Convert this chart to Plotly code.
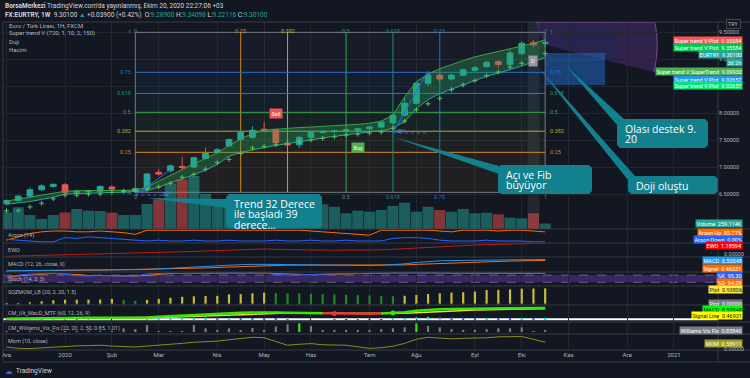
import numpy as np
import pandas as pd
import plotly.graph_objects as go

# ---------------- data (weekly EUR/TRY) ----------------
dates = pd.date_range("2019-12-02", periods=47, freq="7D")

tick_dates = ["2019-12-02", "2020-01-06", "2020-02-03", "2020-03-02", "2020-04-06", "2020-05-04",
              "2020-06-01", "2020-07-06", "2020-08-03", "2020-09-07", "2020-10-05", "2020-11-02",
              "2020-12-07", "2021-01-04"]
tick_labels = ["Ara", "2020", "Şub", "Mar", "Nis", "May", "Haz", "Tem", "Ağu", "Eyl", "Eki", "Kas", "Ara", "2021"]
price_ticks = [6.5, 7.0, 7.5, 8.0, 8.5, 9.0, 9.5]

opens = [6.32, 6.38, 6.46, 6.58, 6.64, 6.67, 6.53, 6.54, 6.55, 6.63,
         6.555, 6.55, 6.60, 6.90, 6.93, 7.01, 7.00, 7.16, 7.27, 7.39,
         7.51, 7.55, 7.70, 7.69, 7.43, 7.41, 7.55, 7.64, 7.655, 7.665,
         7.68, 7.71, 7.74, 7.82, 7.96, 8.18, 8.55, 8.70, 8.63, 8.70,
         8.79, 8.86, 8.95, 8.90, 9.10, 9.30, 9.289]
highs = [6.40, 6.48, 6.62, 6.68, 6.69, 6.70, 6.58, 6.58, 6.66, 6.66,
         6.60, 6.62, 6.89, 6.96, 7.05, 7.19, 7.19, 7.36, 7.35, 7.53,
         7.68, 7.76, 7.84, 7.71, 7.46, 7.57, 7.66, 7.68, 7.69, 7.71,
         7.73, 7.76, 7.85, 7.98, 8.28, 8.58, 8.74, 8.74, 8.73, 8.82,
         8.87, 8.96, 8.98, 9.18, 9.33, 9.35, 9.34098]
lows = [6.29, 6.36, 6.44, 6.56, 6.62, 6.50, 6.50, 6.51, 6.53, 6.57,
        6.52, 6.53, 6.58, 6.84, 6.90, 6.93, 6.98, 7.14, 7.24, 7.37,
        7.48, 7.52, 7.64, 7.42, 7.38, 7.35, 7.53, 7.62, 7.63, 7.65,
        7.66, 7.69, 7.72, 7.80, 7.94, 8.16, 8.50, 8.58, 8.60, 8.68,
        8.77, 8.84, 8.84, 8.88, 9.08, 9.22, 9.22116]
closes = [6.38, 6.46, 6.58, 6.65, 6.68, 6.53, 6.55, 6.56, 6.64, 6.59,
          6.565, 6.60, 6.87, 6.87, 7.02, 6.99, 7.17, 7.25, 7.32, 7.51,
          7.64, 7.68, 7.68, 7.45, 7.41, 7.55, 7.64, 7.66, 7.67, 7.69,
          7.71, 7.74, 7.83, 7.96, 8.18, 8.55, 8.70, 8.63, 8.70, 8.80,
          8.84, 8.94, 8.90, 9.11, 9.29, 9.262, 9.301]
volumes = [787000, 1022000, 659000, 471000, 659000, 777000, 942000, 862000, 848000, 768000,
           659000, 659000, 1178000, 1399000, 2152000, 2341000, 2496000, 1649000, 1413000, 1286000,
           1150000, 1100000, 1000000, 1200000, 950000, 1000000, 980000, 1163000, 1050000, 739000,
           862000, 815000, 895000, 1083000, 1239000, 815000, 1050000, 895000, 815000, 942000,
           739000, 768000, 692000, 532000, 504000, 739000, 259114]

st_upper = [6.37, 6.40, 6.44, 6.48, 6.51, 6.55, 6.56, 6.56, 6.57, 6.57,
            6.57, 6.57, 6.63, 6.74, 6.85, 6.96, 7.06, 7.16, 7.26, 7.40,
            7.52, 7.62, 7.68, 7.70, 7.72, 7.73, 7.74, 7.75, 7.76, 7.78,
            7.79, 7.81, 7.85, 7.96, 8.30, 8.58, 8.72, 8.82, 8.90, 8.97,
            9.04, 9.09, 9.14, 9.19, 9.24, 9.29, 9.35584]
st_lower = [6.31, 6.33, 6.36, 6.40, 6.44, 6.50, 6.51, 6.51, 6.52, 6.53,
            6.53, 6.54, 6.56, 6.63, 6.70, 6.78, 6.86, 6.94, 7.05, 7.20,
            7.27, 7.32, 7.36, 7.40, 7.43, 7.46, 7.50, 7.54, 7.57, 7.60,
            7.62, 7.65, 7.67, 7.72, 7.84, 8.08, 8.25, 8.36, 8.44, 8.52,
            8.60, 8.68, 8.74, 8.80, 8.87, 8.95, 9.02657]
st_trend = [6.19, 6.19, 6.26, 6.33, 6.41, 6.48, 6.48, 6.50, 6.50, 6.53,
            6.55, 6.56, 6.59, 6.63, 6.70, 6.81, 6.86, 6.96, 7.08, 7.14,
            7.25, 7.35, 7.38, 7.41, 7.44, 7.47, 7.50, 7.53, 7.56, 7.59,
            7.61, 7.63, 7.65, 7.72, 7.85, 8.06, 8.17, 8.27, 8.43, 8.52,
            8.60, 8.69, 8.76, 8.85, 8.92, 9.00, 9.0993]

aroon_up = [14, 43, 71, 86, 93, 93, 86, 86, 93, 86,
            79, 64, 100, 100, 100, 100, 100, 100, 100, 100,
            100, 100, 100, 100, 100, 100, 93, 86, 79, 71,
            64, 57, 100, 100, 100, 100, 100, 93, 86, 100,
            100, 100, 93, 100, 100, 92.86, 85.71]
aroon_down = [21, 14, 7, 0, 0, 36, 29, 43, 36, 29,
              21, 14, 7, 14, 7, 7, 14, 7, 7, 14,
              7, 7, 7, 14, 7, 7, 14, 7, 7, 14,
              7, 7, 7, 29, 36, 36, 29, 14, 7, 7,
              7, 14, 7, 7, 7, 0, 0]
ewo = [-0.25, -0.22, -0.18, -0.14, -0.10, -0.07, -0.04, -0.01, 0.00, 0.02,
       0.04, 0.06, 0.08, 0.12, 0.18, 0.22, 0.28, 0.33, 0.38, 0.44,
       0.50, 0.55, 0.56, 0.52, 0.48, 0.45, 0.44, 0.43, 0.42, 0.42,
       0.43, 0.44, 0.46, 0.52, 0.60, 0.68, 0.76, 0.82, 0.88, 0.94,
       1.00, 1.05, 1.09, 1.12, 1.15, 1.17, 1.18594]
macd = [0.03, 0.04, 0.05, 0.06, 0.07, 0.07, 0.07, 0.07, 0.07, 0.07,
        0.07, 0.06, 0.08, 0.11, 0.14, 0.17, 0.20, 0.23, 0.25, 0.27,
        0.29, 0.30, 0.31, 0.30, 0.29, 0.28, 0.27, 0.27, 0.26, 0.26,
        0.25, 0.25, 0.26, 0.28, 0.32, 0.38, 0.43, 0.45, 0.46, 0.47,
        0.48, 0.49, 0.49, 0.49, 0.50, 0.50, 0.50548]
macd_signal = [0.02, 0.03, 0.03, 0.04, 0.05, 0.05, 0.06, 0.06, 0.06, 0.07,
               0.07, 0.07, 0.07, 0.08, 0.09, 0.11, 0.13, 0.15, 0.17, 0.19,
               0.21, 0.23, 0.25, 0.26, 0.27, 0.27, 0.27, 0.27, 0.27, 0.27,
               0.26, 0.26, 0.26, 0.26, 0.28, 0.30, 0.32, 0.35, 0.37, 0.39,
               0.41, 0.42, 0.43, 0.44, 0.45, 0.455, 0.46231]
cm_signal = [0.02, 0.03, 0.03, 0.04, 0.05, 0.05, 0.06, 0.06, 0.07, 0.07,
             0.07, 0.06, 0.07, 0.08, 0.09, 0.11, 0.13, 0.15, 0.18, 0.20,
             0.22, 0.24, 0.26, 0.27, 0.28, 0.28, 0.27, 0.27, 0.28, 0.275,
             0.27, 0.265, 0.265, 0.26, 0.27, 0.29, 0.32, 0.35, 0.38, 0.40,
             0.42, 0.43, 0.44, 0.45, 0.46, 0.465, 0.46931]
stoch_k = [70, 80, 88, 92, 95, 85, 75, 72, 78, 74,
           70, 72, 90, 93, 95, 92, 94, 96, 97, 98,
           98, 97, 95, 85, 80, 82, 86, 88, 90, 92,
           93, 95, 97, 98, 99, 99, 97, 95, 94, 95,
           96, 96, 94, 96, 97, 96, 95.30]
stoch_d = [65, 74, 79, 87, 92, 91, 85, 77, 75, 75,
           74, 72, 77, 85, 93, 93, 94, 94, 96, 97,
           98, 98, 97, 92, 87, 82, 83, 85, 88, 90,
           92, 93, 95, 97, 98, 99, 98, 97, 95, 95,
           95, 96, 95, 95, 96, 96, 94.09]
sqz = [0.02, 0.05, 0.12, 0.18, 0.24, 0.27, 0.275, 0.28, 0.285, 0.32,
       0.26, 0.21, 0.26, 0.32, 0.38, 0.44, 0.47, 0.49, 0.50, 0.59,
       0.60, 0.65, 0.69, 0.66, 0.65, 0.64, 0.62, 0.60, 0.58, 0.56,
       0.54, 0.52, 0.50, 0.48, 0.50, 0.55, 0.61, 0.65, 0.69, 0.71,
       0.75, 0.84, 0.85, 0.88, 0.92, 0.93, 0.93806]
vix = [0.1, 0.1, 0.1, 0.1, 0.1, 0.2, 0.2, 0.1, 0.1, 0.2,
       1.6, 1.2, 3.0, 0.3, 0.2, 0.3, 3.0, 1.6, 0.6, 1.6,
       0.6, 1.7, 0.9, 2.4, 3.3, 3.7, 2.6, 0.9, 0.9, 0.9,
       0.9, 0.9, 1.2, 1.6, 2.0, 3.7, 2.6, 2.0, 1.2, 0.9,
       0.9, 1.2, 1.6, 1.6, 2.0, 0.3, 0.8584]
vix_alert_dates = ["2020-05-25", "2020-08-03"]
mom = [0.19, 0.08, 0.06, 0.13, 0.17, 0.25, 0.29, 0.31, 0.34, 0.27,
       0.21, 0.19, 0.27, 0.34, 0.38, 0.50, 0.59, 0.63, 0.69, 0.80,
       0.92, 1.01, 0.97, 0.67, 0.34, 0.42, 0.48, 0.38, 0.34, 0.34,
       0.21, 0.08, 0.13, 0.25, 0.50, 0.84, 1.01, 0.97, 0.88, 0.92,
       0.94, 0.97, 1.05, 1.09, 1.07, 0.84, 0.58911]

fib_levels = [0, 0.25, 0.382, 0.5, 0.618, 0.75, 1]
fib_price_range = [6.531, 9.494]
fib_time_bars = [11, 46]

# ---------------- geometry / style ----------------
BG = "#131722"
GRID = "#22262f"
SEP = "#363a45"
TXT = "#b2b5be"
FONT = "Roboto"
PL, PR, PT, PB = 3, 718, 22, 350
X0 = pd.Timestamp("2019-11-29 21:47")
X1 = pd.Timestamp("2021-01-30 07:26")
P_LO, P_HI = 5.8519, 9.6852
DAY_MS = 86400000


def fx(px):
    return (px - PL) / (PR - PL)


def fy(py):
    return (PB - py) / (PB - PT)


def dom(top, bot):
    return [fy(bot), fy(top)]


def date_px(d):
    return PL + (pd.Timestamp(d) - X0) / (X1 - X0) * (PR - PL)


def price_py(p):
    return 22 + (P_HI - p) / (P_HI - P_LO) * (229 - 22)


fig = go.Figure()
X = dict(xaxis="x", hoverinfo="skip", showlegend=False)

# ---- main pane: supertrend band, crosses, candles, volume
fig.add_trace(go.Scatter(x=dates, y=st_lower, mode="lines", line=dict(color="#26a69a", width=1), yaxis="y", **X))
fig.add_trace(go.Scatter(x=dates, y=st_upper, mode="lines", line=dict(color="#43a047", width=1),
                         fill="tonexty", fillcolor="rgba(40,165,85,0.33)", yaxis="y", **X))
fig.add_trace(go.Scatter(x=dates, y=st_trend, mode="markers", yaxis="y",
                         marker=dict(symbol="cross-thin", size=3.5, line=dict(color="#5cc15f", width=1)), **X))
fig.add_trace(go.Candlestick(x=dates, open=opens, high=highs, low=lows, close=closes, yaxis="y",
                             increasing=dict(line=dict(color="#26a69a", width=1), fillcolor="#26a69a"),
                             decreasing=dict(line=dict(color="#ef5350", width=1), fillcolor="#ef5350"),
                             whiskerwidth=0, xaxis="x", hoverinfo="skip", showlegend=False))
vol_colors = ["rgba(38,166,154,0.5)" if c >= o else "rgba(239,83,80,0.5)" for o, c in zip(opens, closes)]
fig.add_trace(go.Bar(x=dates, y=volumes, marker=dict(color=vol_colors, line=dict(width=0)),
                     width=7 * DAY_MS * 0.95, yaxis="y2", **X))

# ---- Aroon
fig.add_trace(go.Scatter(x=dates, y=aroon_up, mode="lines", line=dict(color="#ff6d00", width=1), yaxis="y3", **X))
fig.add_trace(go.Scatter(x=dates, y=aroon_down, mode="lines", line=dict(color="#2962ff", width=1), yaxis="y3", **X))
# ---- EWO
fig.add_trace(go.Scatter(x=dates, y=ewo, mode="lines", line=dict(color="#b71c1c", width=1), yaxis="y4", **X))
# ---- MACD
fig.add_trace(go.Scatter(x=dates, y=macd_signal, mode="lines", line=dict(color="#ff6d00", width=1), yaxis="y5", **X))
fig.add_trace(go.Scatter(x=dates, y=macd, mode="lines", line=dict(color="#2196f3", width=1), yaxis="y5", **X))
# ---- Stoch
fig.add_trace(go.Scatter(x=dates, y=stoch_d, mode="lines", line=dict(color="#ff6d00", width=1), yaxis="y6", **X))
fig.add_trace(go.Scatter(x=dates, y=stoch_k, mode="lines", line=dict(color="#2962ff", width=1), yaxis="y6", **X))
# ---- Squeeze momentum
sqz_colors = ["#c8be38" if i == 0 or v > sqz[i - 1] else "#1f8a24" for i, v in enumerate(sqz)]
fig.add_trace(go.Bar(x=dates, y=sqz, marker=dict(color=sqz_colors, line=dict(width=0)),
                     width=1.3 * DAY_MS, yaxis="y7", **X))
fig.add_trace(go.Scatter(x=dates, y=[0] * len(dates), mode="markers",
                         marker=dict(size=2, color="#3b3f4a"), yaxis="y7", **X))
# ---- CM Ult MacD
hist = [m - s for m, s in zip(macd, cm_signal)]
hist_colors = []
for i, h in enumerate(hist):
    prev = hist[i - 1] if i else h
    if h >= 0:
        hist_colors.append("#00e5ff" if h >= prev else "#2962ff")
    else:
        hist_colors.append("#ff1744" if h < prev else "#880e4f")
fig.add_trace(go.Bar(x=dates, y=hist, marker=dict(color=hist_colors, line=dict(width=0)),
                     width=1.3 * DAY_MS, yaxis="y8", **X))
fig.add_trace(go.Scatter(x=dates, y=cm_signal, mode="lines", line=dict(color="#e8e33a", width=1.5), yaxis="y8", **X))
up = [m >= s for m, s in zip(macd, cm_signal)]
n = len(macd)
lime_y = [macd[i] if (up[i] or (i + 1 < n and up[i + 1])) else None for i in range(n)]
red_y = [macd[i] if ((not up[i]) or (i + 1 < n and not up[i + 1])) else None for i in range(n)]
fig.add_trace(go.Scatter(x=dates, y=lime_y, mode="lines", line=dict(color="#39e600", width=2.5), yaxis="y8",
                         connectgaps=False, **X))
fig.add_trace(go.Scatter(x=dates, y=red_y, mode="lines", line=dict(color="#e53935", width=2.5), yaxis="y8",
                         connectgaps=False, **X))
cx_d = [dates[i] for i in range(1, n) if up[i] != up[i - 1]]
cx_v = [macd[i] for i in range(1, n) if up[i] != up[i - 1]]
cx_c = ["#39e600" if up[i] else "#e53935" for i in range(1, n) if up[i] != up[i - 1]]
fig.add_trace(go.Scatter(x=cx_d, y=cx_v, mode="markers", marker=dict(size=5, color=cx_c), yaxis="y8", **X))
# ---- Williams Vix Fix
alert_set = set(pd.to_datetime(vix_alert_dates))
vix_colors = ["#39e600" if d in alert_set else "#787b86" for d in dates]
fig.add_trace(go.Bar(x=dates, y=vix, marker=dict(color=vix_colors, line=dict(width=0)),
                     width=1.3 * DAY_MS, yaxis="y9", **X))
# ---- Momentum
fig.add_trace(go.Scatter(x=dates, y=mom, mode="lines", line=dict(color="#8d8b1c", width=1), yaxis="y10", **X))

# ---------------- shapes ----------------
shapes = []


def pline(x0, y0, x1, y1, color=SEP, width=1):
    shapes.append(dict(type="line", xref="paper", yref="paper", x0=fx(x0), y0=fy(y0), x1=fx(x1), y1=fy(y1),
                       line=dict(color=color, width=width), layer="above"))


def ppath(points, fill, line_color=None, layer="above", close=True, lw=1):
    s = "M " + " L ".join(f"{fx(x):.5f},{fy(y):.5f}" for x, y in points) + (" Z" if close else "")
    d = dict(type="path", xref="paper", yref="paper", path=s, layer=layer,
             line=dict(color=line_color or "rgba(0,0,0,0)", width=lw if line_color else 0))
    if fill:
        d["fillcolor"] = fill
    shapes.append(d)


# crosshair column on the hovered bar
shapes.append(dict(type="rect", xref="x", yref="paper", x0=dates[45] - pd.Timedelta(days=3.5),
                   x1=dates[45] + pd.Timedelta(days=3.5), y0=fy(229), y1=fy(22),
                   fillcolor="rgba(120,123,134,0.16)", line=dict(width=0), layer="between"))

# fibonacci (price levels + time levels)
fib_colors = ["#787b86", "#d18a1f", "#a7b12f", "#3fa34d", "#18907d", "#2a72c6", "#787b86"]
fib_fill = ["rgba(209,138,31,0.07)", "rgba(167,177,47,0.07)", "rgba(63,163,77,0.08)",
            "rgba(24,144,125,0.08)", "rgba(42,114,198,0.08)", "rgba(120,123,134,0.06)"]
f_lo, f_hi = fib_price_range
t0, t1 = dates[fib_time_bars[0]], dates[fib_time_bars[1]]
span = fib_time_bars[1] - fib_time_bars[0]
fib_prices = [f_lo + l * (f_hi - f_lo) for l in fib_levels]
for k in range(len(fib_levels) - 1):
    shapes.append(dict(type="rect", xref="x", yref="y", x0=t0, x1=t1, y0=fib_prices[k], y1=fib_prices[k + 1],
                       fillcolor=fib_fill[k], line=dict(width=0), layer="between"))
fib_time = []
for l, c, p in zip(fib_levels, fib_colors, fib_prices):
    shapes.append(dict(type="line", xref="x", yref="y", x0=t0, x1=t1, y0=p, y1=p,
                       line=dict(color=c, width=1), layer="between"))
    td = dates[fib_time_bars[0] + int(round(l * span))]
    fib_time.append(td)
    shapes.append(dict(type="line", xref="x", yref="y", x0=td, x1=td, y0=f_lo, y1=f_hi,
                       line=dict(color=c, width=1), layer="between"))

# support zone + fib arc sector (drawings)
cxp, cyp = date_px(dates[46]), price_py(9.26)
ang = np.radians(np.linspace(-95, 14, 60))
outer = [(cxp, cyp)] + [(cxp + 112 * np.cos(a), max(22.5, cyp + 112 * np.sin(a))) for a in ang]
inner = [(cxp, cyp)] + [(cxp + 72 * np.cos(a), max(22.5, cyp + 72 * np.sin(a))) for a in ang]
ppath(outer, "rgba(120,58,170,0.30)", layer="between")
ppath(inner, "rgba(30,40,90,0.35)", layer="between")
ppath([(cxp + 112 * np.cos(a), max(22.5, cyp + 112 * np.sin(a))) for a in ang], None,
      line_color="rgba(170,90,200,0.7)", layer="between", close=False)
shapes.append(dict(type="rect", xref="x", yref="y", x0=dates[46], x1=pd.Timestamp("2020-11-23 19:00"),
                   y0=8.52, y1=9.11, fillcolor="rgba(33,110,205,0.5)", line=dict(width=0), layer="between"))

# angle tools
ANG = "#2962ff"
shapes.append(dict(type="line", xref="x", yref="y", x0=dates[11], y0=6.48, x1=dates[14], y1=6.95,
                   line=dict(color=ANG, width=1), layer="above"))
shapes.append(dict(type="line", xref="x", yref="y", x0=dates[11], y0=6.48, x1=dates[14], y1=6.48,
                   line=dict(color=ANG, width=1, dash="dot"), layer="above"))
shapes.append(dict(type="line", xref="x", yref="y", x0=dates[33], y0=7.63, x1=dates[36], y1=8.78,
                   line=dict(color=ANG, width=1), layer="above"))
shapes.append(dict(type="line", xref="x", yref="y", x0=dates[33], y0=7.63, x1=dates[36], y1=7.63,
                   line=dict(color=ANG, width=1, dash="dot"), layer="above"))

# stoch band
shapes.append(dict(type="rect", xref="paper", yref="y6", x0=0, x1=1, y0=20, y1=80,
                   fillcolor="rgba(103,58,183,0.45)", line=dict(width=0), layer="between"))
for lv in (20, 80):
    shapes.append(dict(type="line", xref="paper", yref="y6", x0=0, x1=1, y0=lv, y1=lv,
                       line=dict(color="rgba(180,180,200,0.45)", width=1, dash="dash"), layer="between"))
# CM zero line
shapes.append(dict(type="line", xref="paper", yref="y8", x0=0, x1=1, y0=0, y1=0,
                   line=dict(color="#ffffff", width=2), layer="between"))

# callouts
TEAL = "#12808d"
callouts = [
    dict(box=(226, 194, 322, 229), lines=["Trend 32 Derece", "ile başladı 39", "derece..."],
         tail=[(147, 198), (227, 199), (227, 208)]),
    dict(box=(498, 165, 592, 194), lines=["Açı ve Fib", "büyüyor"],
         tail=[(393, 137), (499, 166), (499, 174)]),
    dict(box=(617, 119, 708, 148), lines=["Olası destek 9.", "20"],
         tail=[(566, 66), (617, 125), (624, 119)]),
    dict(box=(628, 176, 718, 194), lines=["Doji oluştu"],
         tail=[(537, 66), (628, 180), (635, 176)]),
]
for c in callouts:
    x0, y0, x1, y1 = c["box"]
    r = 3
    pts = [(x0 + r, y0), (x1 - r, y0), (x1, y0 + r), (x1, y1 - r), (x1 - r, y1), (x0 + r, y1), (x0, y1 - r),
           (x0, y0 + r)]
    ppath(c["tail"], TEAL)
    ppath(pts, TEAL)

# pane separators & frame
for py in (22, 229, 243, 257, 272, 286, 305, 322, 334, 350, 362):
    pline(3, py, 750, py)
pline(718, 22, 718, 362)
pline(3, 22, 3, 362)

# ---------------- annotations ----------------
anns = []


def txt(px, py, s, size=6, color=TXT, xa="left", ya="middle", family=FONT, bg=None, pad=0, **kw):
    d = dict(x=fx(px), y=fy(py), xref="paper", yref="paper", text=s, showarrow=False,
             xanchor=xa, yanchor=ya, font=dict(size=size, color=color, family=family))
    if bg:
        d.update(bgcolor=bg, borderpad=pad)
    d.update(kw)
    anns.append(d)


# header
txt(3, 6, "<b>BorsaMerkezi</b> TradingView.com'da yayınlanmış, Ekim 20, 2020 22:27:06 +03", 6.5, "#d1d4dc")
G = "#26a69a"
txt(3, 15, f"<b>FX:EURTRY, 1W</b>  9.30100 <span style='color:{G}'>▲</span> +0.03900 (+0.42%)  "
           f"O:<span style='color:{G}'>9.28900</span> H:<span style='color:{G}'>9.34098</span> "
           f"L:<span style='color:{G}'>9.22116</span> C:<span style='color:{G}'>9.30100</span>", 6.5, "#d1d4dc")
# main legend
for py, s in zip((25.5, 33.5, 41.5, 49.5),
                 ("Euro / Türk Lirası, 1H, FXCM", "Super trend V (720, 1, 10, 2, 150)", "Doji", "Hacim")):
    txt(7, py, s, 6)
# sub pane titles
for py, s in zip((235.7, 249.5, 264.3, 279.5, 292.7, 313.3, 328.5, 341),
                 ("Aroon (14)", "EWO", "MACD (12, 26, close, 9)", "Stoch (14, 3, 3)", "SQZMOM_LB (20, 2, 20, 1.5)",
                  "CM_Ult_MacD_MTF (60, 12, 26, 9)", "CM_Williams_Vix_Fix (22, 20, 2, 50, 0.85, 1.01)",
                  "Mom (10, close)")):
    txt(6, py, s, 5.5)

# fib labels
for l, c, p, td in zip(fib_levels, fib_colors, fib_prices, fib_time):
    lab = f"{l:g}"
    anns.append(dict(x=t0, y=p, xref="x", yref="y", text=lab, showarrow=False, xanchor="right", xshift=-2,
                     font=dict(size=5.5, color=c, family=FONT)))
    anns.append(dict(x=t1, y=p, xref="x", yref="y", text=lab, showarrow=False, xanchor="left", xshift=3,
                     font=dict(size=5.5, color=c, family=FONT)))
    anns.append(dict(x=td, y=fy(26.5), xref="x", yref="paper", text=lab, showarrow=False, xanchor="center",
                     font=dict(size=5.5, color=c, family=FONT)))
    if l not in (0.25, 0.382):
        anns.append(dict(x=td, y=fy(197), xref="x", yref="paper", text=lab, showarrow=False, xanchor="center",
                         font=dict(size=5.5, color=c, family=FONT)))

# angle labels, signals, doji mark
anns.append(dict(x=dates[13], y=6.50, xref="x", yref="y", text="32°", showarrow=False, xanchor="left",
                 xshift=1, font=dict(size=5.5, color="#5b8def", family=FONT)))
anns.append(dict(x=dates[33], y=7.66, xref="x", yref="y", text="39°", showarrow=False, xanchor="left",
                 xshift=2, font=dict(size=5.5, color="#5b8def", family=FONT)))
anns.append(dict(x=dates[23], y=8.0, xref="x", yref="y", text="Sell", showarrow=False, bgcolor="#ef5350",
                 borderpad=1.5, font=dict(size=5.5, color="#ffffff", family=FONT)))
anns.append(dict(x=dates[30], y=7.37, xref="x", yref="y", text="Buy", showarrow=False, bgcolor="#4caf50",
                 borderpad=1.5, font=dict(size=5.5, color="#ffffff", family=FONT)))
anns.append(dict(x=dates[45], y=8.97, xref="x", yref="y", text="D", showarrow=False, bgcolor="#9598a1",
                 borderpad=2, font=dict(size=5.5, color="#ffffff", family=FONT)))

# callout texts
for c in callouts:
    x0, y0, x1, y1 = c["box"]
    for k, line in enumerate(c["lines"]):
        txt(x0 + 5.5, y0 + 9.5 + 10.5 * k, line, 10.5, "#ffffff", family="Open Sans")

# right price-scale tags (main pane)
txt(733, 24.5, "TRY", 5.5, TXT, xa="center", bg=BG, pad=1, bordercolor="#434651", borderwidth=1)
tags = [
    ("Super trend V:Plot  9.35584", 40, "#ff5252", "#ffffff"),
    ("Super trend V:Plot  9.35584", 47.5, "#00c853", "#ffffff"),
    ("EURTRY  9.30100", 55, "#26a69a", "#ffffff"),
    ("3d 2h", 62.5, "#26a69a", "#ffffff"),
    ("Super trend V:SuperTrend  9.09930", 71.5, "#4caf50", "#ffffff"),
    ("Super trend V:Plot  9.02657", 79, "#2196f3", "#ffffff"),
    ("Super trend V:Plot  9.02657", 86, "#00e676", "#ffffff"),
    ("Volume  259.114K", 223.5, "#26a69a", "#ffffff"),
    ("Aroon Up  85.71%", 232.5, "#ff6d00", "#ffffff"),
    ("Aroon Down  0.00%", 239.5, "#2962ff", "#ffffff"),
    ("EWO  1.18594", 245.5, "#ff0000", "#ffffff"),
    ("MACD  0.50548", 260.5, "#2196f3", "#ffffff"),
    ("Signal  0.46231", 268, "#ff6d00", "#ffffff"),
    ("%K  95.30", 275, "#2962ff", "#ffffff"),
    ("%D  94.09", 282, "#ff6d00", "#ffffff"),
    ("Plot  0.93806", 289, "#ffeb3b", "#131722"),
    ("Plot  0.00000", 303.5, "#787b86", "#ffffff"),
    ("MACD  0.50548", 309, "#00ff00", "#131722"),
    ("Signal Line  0.46931", 315.5, "#ffff00", "#131722"),
    ("Williams Vix Fix  0.85840", 330, "#787b86", "#ffffff"),
    ("MOM  0.58911", 343, "#9e9d24", "#ffffff"),
]
for s, py, bg, fg in tags:
    txt(743, py, s, 5.5, fg, xa="right", bg=bg, pad=0.5)
txt(722, 254.3, "0.00000", 5.5)
txt(722, 349.3, "0.00000", 5.5)

# TradingView logo
txt(3, 371, "☁", 8, "#2962ff", family="DejaVu Sans")
txt(14, 371, "TradingView", 6.5, "#d1d4dc")

# ---------------- layout ----------------
hidden = dict(visible=False, fixedrange=True)
layout = dict(
    width=750, height=378, autosize=False,
    margin=dict(l=PL, r=750 - PR, t=PT, b=378 - PB),
    paper_bgcolor=BG, plot_bgcolor=BG, showlegend=False, hovermode=False,
    xaxis=dict(type="date", range=[X0, X1], domain=[0, 1], anchor="y10",
               tickvals=pd.to_datetime(tick_dates), ticktext=tick_labels,
               showgrid=True, gridcolor=GRID, gridwidth=1, zeroline=False, showline=False, ticks="",
               tickfont=dict(size=6, color=TXT, family=FONT), rangeslider=dict(visible=False)),
    yaxis=dict(domain=dom(22, 229), range=[P_LO, P_HI], side="right", anchor="x",
               tickvals=price_ticks, tickformat=".5f", showgrid=True, gridcolor=GRID, zeroline=False,
               ticks="", tickfont=dict(size=5.5, color=TXT, family=FONT)),
    yaxis2=dict(overlaying="y", range=[0, 207 * 47100], **hidden),
    yaxis3=dict(domain=dom(229, 243), range=[-10.3, 110.3], anchor="x", **hidden),
    yaxis4=dict(domain=dom(243, 257), range=[-0.333, 1.222], anchor="x", **hidden),
    yaxis5=dict(domain=dom(257, 272), range=[-0.02, 0.61], anchor="x", **hidden),
    yaxis6=dict(domain=dom(272, 286), range=[-10, 105], anchor="x", **hidden),
    yaxis7=dict(domain=dom(286, 305), range=[-0.041, 1.08], anchor="x", **hidden),
    yaxis8=dict(domain=dom(305, 322), range=[-0.12, 0.638], anchor="x", **hidden),
    yaxis9=dict(domain=dom(322, 334), range=[-0.86, 4.3], anchor="x", **hidden),
    yaxis10=dict(domain=dom(334, 350), range=[-0.06, 1.285], anchor="x", **hidden),
    shapes=shapes, annotations=anns,
)
fig.update_layout(**layout)
fig.write_html("out.html", config={"displayModeBar": False},
               post_script="document.body.style.margin='0';document.body.style.padding='0';")
